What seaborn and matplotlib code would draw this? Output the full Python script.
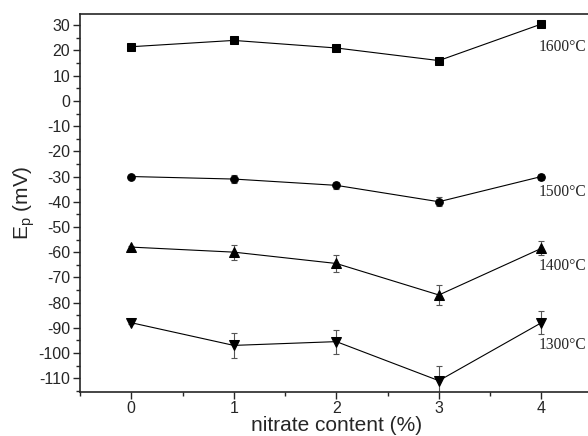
import matplotlib
matplotlib.use("Agg")
import matplotlib.pyplot as plt
from matplotlib.ticker import MultipleLocator
import numpy as np
import pandas as pd
import seaborn as sns

# ── Data ───────────────────────────────────────────────────────────────────
nitrate = [0, 1, 2, 3, 4]
temps   = ["1600", "1500", "1400", "1300"]

ep_1600 = [21.5, 24.0, 21.0, 16.0, 30.5]
ep_1500 = [-30.0, -31.0, -33.5, -40.0, -30.0]
ep_1400 = [-58.0, -60.0, -64.5, -77.0, -58.5]
ep_1300 = [-88.0, -97.0, -95.5, -111.0, -88.0]

err_1600 = [0.5, 0.5, 0.5, 0.5, 0.5]
err_1500 = [0.5, 1.5, 1.5, 1.8, 1.2]
err_1400 = [0.5, 3.0, 3.2, 3.8, 2.8]
err_1300 = [0.5, 4.8, 4.8, 6.0, 4.5]

label_y = [21.5, -36.0, -65.5, -97.0]

values = [ep_1600, ep_1500, ep_1400, ep_1300]
errors = [err_1600, err_1500, err_1400, err_1300]
df = pd.DataFrame({
    "x":    np.tile(nitrate, len(temps)),
    "ep":   np.concatenate(values),
    "temp": np.repeat(temps, len(nitrate)),
})

# ── Plot ───────────────────────────────────────────────────────────────────
sns.set_style("ticks")
plt.rcParams["font.family"] = ["Liberation Sans", "DejaVu Sans"]
plt.rcParams["axes.unicode_minus"] = False

fig = plt.figure(figsize=(5.88, 4.36), dpi=100)
ax = fig.add_axes([0.136, 0.102, 0.872, 0.866])

for v, e in zip(values, errors):
    ax.errorbar(nitrate, v, yerr=e, fmt="none", ecolor="#555555",
                elinewidth=0.8, capsize=2.5, capthick=0.8, zorder=2)

sns.lineplot(data=df, x="x", y="ep", hue="temp", style="temp",
             palette=["black"] * 4, dashes=False,
             markers={"1600": "s", "1500": "o", "1400": "^", "1300": "v"},
             markersize=5.5, markeredgecolor="black", linewidth=0.8,
             legend=False, ax=ax, zorder=3)
# triangles look a bit larger than squares/circles in the original
for ln in ax.lines:
    if ln.get_marker() in ("^", "v"):
        ln.set_markersize(7)

# temperature labels sit right next to the last point; keep them inside the figure
for t, yl in zip(temps, label_y):
    ax.text(3.975, yl, t + "°C", family="Liberation Serif",
            fontsize=11.2, va="center", ha="left")

ax.set_xlim(-0.5, 4.5)
ax.set_ylim(-115.3, 34.5)
ax.xaxis.set_major_locator(MultipleLocator(1))
ax.xaxis.set_minor_locator(MultipleLocator(0.5))
ax.yaxis.set_major_locator(MultipleLocator(10))
ax.yaxis.set_minor_locator(MultipleLocator(5))
ax.tick_params(which="major", length=5, width=1, labelsize=11.5, direction="out", pad=2)
ax.tick_params(which="minor", length=3, width=1, direction="out")
for s in ax.spines.values():
    s.set_linewidth(1.2)

ax.set_xlabel("nitrate content (%)", fontsize=15, labelpad=0)
ax.set_ylabel(r"E$_\mathregular{p}$ (mV)", fontsize=15, labelpad=1)

fig.savefig("out.png", dpi=100)
